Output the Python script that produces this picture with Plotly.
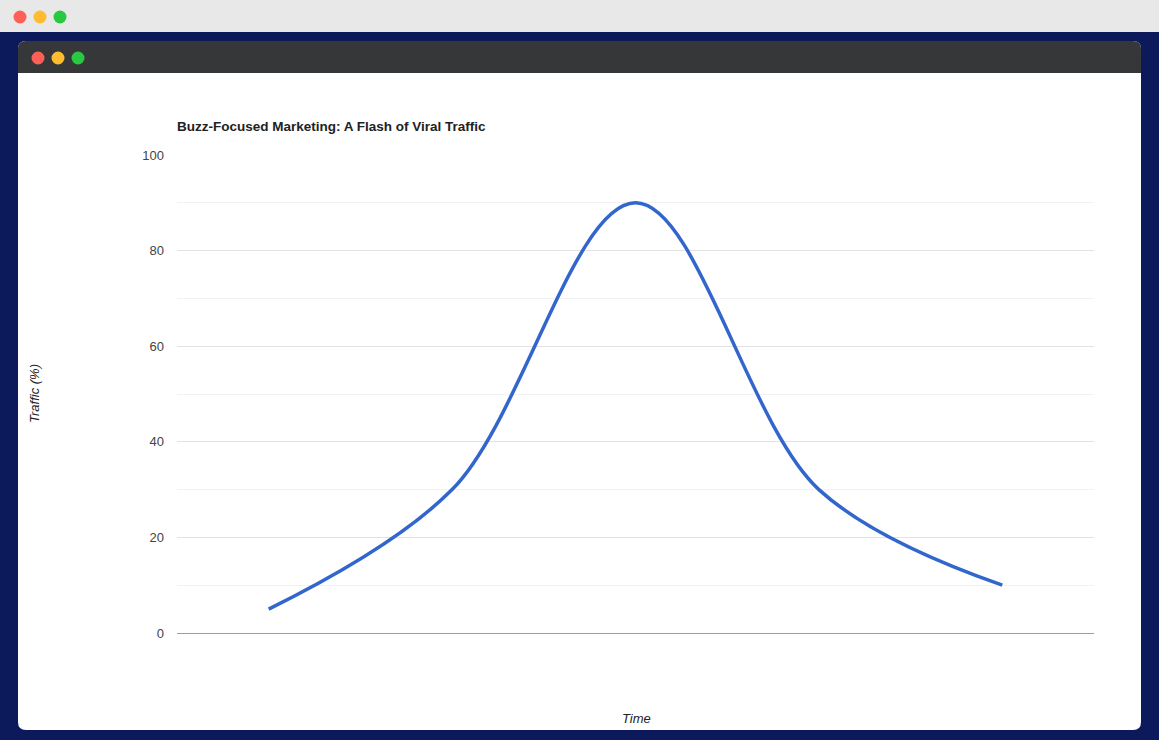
import plotly.graph_objects as go

# ---- data ----
periods = ["Launch", "Buzz Builds", "Viral Peak", "Decline", "Aftermath"]
traffic = [5, 30, 90, 30, 10]
y_ticks = [0, 20, 40, 60, 80, 100]

W, H = 1159, 740
PL, PR, PT, PB = 177, 1094, 155, 633  # plot area in pixels


def xp(px):
    return (px - PL) / (PR - PL)


def yp(py):
    return (PB - py) / (PB - PT)


def rrect(x0, y0, x1, y1, r, color, top_only=False, bottom_only=False):
    rt = 0 if bottom_only else r
    rb = 0 if top_only else r
    path = (
        f"M {xp(x0 + rt)},{yp(y0)} L {xp(x1 - rt)},{yp(y0)} "
        f"Q {xp(x1)},{yp(y0)} {xp(x1)},{yp(y0 + rt)} "
        f"L {xp(x1)},{yp(y1 - rb)} Q {xp(x1)},{yp(y1)} {xp(x1 - rb)},{yp(y1)} "
        f"L {xp(x0 + rb)},{yp(y1)} Q {xp(x0)},{yp(y1)} {xp(x0)},{yp(y1 - rb)} "
        f"L {xp(x0)},{yp(y0 + rt)} Q {xp(x0)},{yp(y0)} {xp(x0 + rt)},{yp(y0)} Z"
    )
    return dict(type="path", xref="paper", yref="paper", path=path,
                fillcolor=color, line=dict(width=0), layer="below")


def dot(cx, cy, r, color):
    return dict(type="circle", xref="paper", yref="paper",
                x0=xp(cx - r), x1=xp(cx + r), y0=yp(cy + r), y1=yp(cy - r),
                fillcolor=color, line=dict(width=0), layer="below")


shapes = [
    dict(type="rect", xref="paper", yref="paper", x0=xp(0), x1=xp(W),
         y0=yp(32), y1=yp(0), fillcolor="#e8e8e8", line=dict(width=0), layer="below"),
    rrect(18, 41, 1141, 730, 8, "#ffffff"),
    rrect(18, 41, 1141, 73, 8, "#363739", top_only=True),
    dot(20, 17, 6.5, "#ff5f57"), dot(40, 17, 6.5, "#febc2e"), dot(60, 17, 6.5, "#28c840"),
    dot(38, 58, 6.5, "#ff5f57"), dot(58, 58, 6.5, "#febc2e"), dot(78, 58, 6.5, "#28c840"),
]

fig = go.Figure()
fig.add_trace(go.Scatter(
    x=periods, y=traffic, mode="lines",
    line=dict(color="#3366cc", width=3.5, shape="spline", smoothing=1.0),
    hoverinfo="x+y", showlegend=False,
))

font_family = "Liberation Sans, Arial, sans-serif"

fig.update_layout(
    width=W, height=H,
    margin=dict(l=PL, r=W - PR, t=PT, b=H - PB, pad=0),
    paper_bgcolor="#0c1a5c",
    plot_bgcolor="rgba(0,0,0,0)",
    font=dict(family=font_family, size=13, color="#444444"),
    shapes=shapes,
    title=dict(text="<b>Buzz-Focused Marketing: A Flash of Viral Traffic</b>",
               x=xp(177), xref="paper", xanchor="left",
               y=1 - 126 / H, yref="container", yanchor="middle",
               font=dict(family=font_family, size=13.5, color="#222222")),
    xaxis=dict(type="category", range=[-0.5, len(periods) - 0.5],
               showticklabels=False, showgrid=False, zeroline=False,
               showline=True, linecolor="#9e9e9e", linewidth=1, ticks=""),
    yaxis=dict(range=[0, 100], tickvals=y_ticks, ticks="",
               showgrid=True, gridcolor="#e3e3e3", gridwidth=1,
               minor=dict(dtick=10, showgrid=True, gridcolor="#f2f2f2", gridwidth=1),
               zeroline=False, showline=False, ticklabelstandoff=12,
               tickfont=dict(size=13, color="#444444")),
    annotations=[
        dict(text="<i>Traffic (%)</i>", xref="paper", yref="paper",
             x=xp(34), y=yp(394), textangle=-90, showarrow=False,
             xanchor="center", yanchor="middle",
             font=dict(family=font_family, size=13, color="#222222")),
        dict(text="<i>Time</i>", xref="paper", yref="paper",
             x=xp(636), y=yp(718), showarrow=False,
             xanchor="center", yanchor="middle",
             font=dict(family=font_family, size=13, color="#222222")),
    ],
)

fig.write_html("out.html", config={"displayModeBar": False},
               post_script="document.body.style.margin='0';document.body.style.overflow='hidden';")
